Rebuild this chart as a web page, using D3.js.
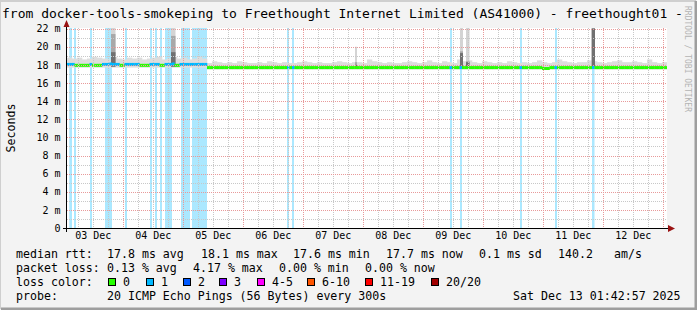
<!DOCTYPE html>
<html>
<head>
<meta charset="utf-8">
<script src="https://cdn.jsdelivr.net/npm/d3@7"></script>
<style>
  body { margin: 0; background: #f3f3f3; }
  text { font-family: "DejaVu Sans Mono", monospace; fill: #000; }
</style>
</head>
<body>
<div id="chart"></div>
<script>
// graph window: last 10 days, hourly bins counted from the start
var startTime = new Date(Date.UTC(2025, 11, 3, 1, 42, 57));
var endTime = new Date(Date.UTC(2025, 11, 13, 1, 42, 57));

// median rtt per hour (ms), 240 hours
var medianRtt = [
  18.05,18.05,18.05,17.95,17.95,17.95,17.95,17.95,17.95,18.05,17.95,17.95,17.95,17.95,18.05,18.05,18.05,18.1,18.05,18.05,18.05,17.95,17.95,18.05,
  18.05,18.05,18.05,18.05,18.05,17.95,17.95,17.95,17.95,18.05,18.05,18.05,18.05,17.95,17.95,18.05,18.05,18.05,18.1,17.95,17.95,18.05,18.05,18.05,
  18.05,18.05,18.05,18.05,18.05,18.05,18.05,18.05,17.7,17.7,17.7,17.7,17.7,17.7,17.7,17.7,17.7,17.7,17.7,17.7,17.7,17.7,17.7,17.7,
  17.7,17.7,17.7,17.7,17.7,17.7,17.7,17.7,17.7,17.7,17.7,17.7,17.7,17.7,17.7,17.7,17.7,17.7,17.7,17.7,17.7,17.7,17.7,17.7,
  17.7,17.7,17.7,17.7,17.7,17.7,17.7,17.7,17.7,17.7,17.7,17.7,17.7,17.7,17.7,17.7,17.7,17.7,17.7,17.7,17.7,17.7,17.7,17.7,
  17.7,17.7,17.7,17.7,17.7,17.7,17.7,17.7,17.7,17.7,17.7,17.7,17.7,17.7,17.7,17.7,17.7,17.7,17.7,17.7,17.7,17.7,17.7,17.7,
  17.7,17.7,17.7,17.7,17.7,17.7,17.7,17.7,17.7,17.7,17.7,17.7,17.7,17.7,17.7,17.7,17.7,17.7,17.7,17.7,17.7,17.7,17.7,17.7,
  17.7,17.7,17.7,17.7,17.7,17.7,17.7,17.7,17.7,17.7,17.7,17.7,17.7,17.7,17.7,17.7,17.7,17.7,17.7,17.7,17.7,17.7,17.6,17.6,
  17.6,17.7,17.7,17.7,17.7,17.7,17.7,17.7,17.7,17.7,17.7,17.7,17.7,17.7,17.7,17.7,17.7,17.7,17.7,17.7,17.7,17.7,17.7,17.7,
  17.7,17.7,17.7,17.7,17.7,17.7,17.7,17.7,17.7,17.7,17.7,17.7,17.7,17.7,17.7,17.7,17.7,17.7,17.7,17.7,17.7,17.7,17.7,17.7
];

// average lost pings per hour in the first 56 hours (hourly average, rounded up to a loss level)
var earlyLossLevel = [
  1,1,1,0,0,0,0,0,0,1,0,0,0,0,1,1,1,1,1,1,1,0,0,1,
  1,1,1,1,1,0,0,0,0,1,1,1,1,0,0,1,1,1,1,0,0,1,1,1,
  1,1,1,1,1,1,1,1
];

// smoke (all pings) per 2-hour block: lowest and highest rtt (ms)
var smokeLo = [
  17.7,17.7,17.7,17.7,17.7,17.7,17.7,17.7,17.7,17.7,17.7,17.7,17.7,17.7,17.7,17.7,17.7,17.7,17.7,17.7,17.7,17.7,17.7,17.7,17.7,17.7,17.7,17.7,
  17.5,17.5,17.5,17.5,17.5,17.5,17.5,17.5,17.5,17.5,17.5,17.5,17.5,17.5,17.5,17.5,17.5,17.5,17.5,17.5,17.5,17.5,17.5,17.5,17.5,17.5,17.5,17.5,
  17.5,17.5,17.5,17.5,17.5,17.5,17.5,17.5,17.5,17.5,17.5,17.5,17.5,17.5,17.5,17.5,17.5,17.5,17.5,17.5,17.5,17.5,17.5,17.5,17.5,17.5,17.5,17.5,
  17.5,17.5,17.5,17.5,17.5,17.5,17.5,17.5,17.5,17.5,17.5,17.5,17.5,17.5,17.5,17.5,17.5,17.5,17.5,17.5,17.5,17.5,17.5,17.5,17.5,17.5,17.5,17.5,
  17.5,17.5,17.5,17.5,17.5,17.5,17.5,17.5
];
var smokeHi = [
  18.8,18.7,18.8,18.6,18.7,18.9,18.8,18.7,18.6,18.9,18.7,18.6,18.8,18.7,18.8,18.6,18.7,18.8,18.9,18.6,18.7,18.9,18.7,18.8,18.6,18.7,18.9,18.7,
  18.2,18.4,18.3,18.2,18.3,18.2,18.4,18.3,18.2,18.2,18.3,18.2,18.4,18.3,18.2,18.3,18.2,18.2,18.3,18.4,18.3,18.2,18.3,18.2,18.2,18.3,18.4,18.3,
  18.2,18.3,18.3,18.2,18.6,18.4,18.3,18.2,18.3,18.2,18.2,18.3,18.4,18.3,18.2,18.3,18.5,18.3,18.2,18.4,18.3,18.2,18.6,18.4,18.5,18.3,18.2,18.4,
  18.3,18.2,18.3,18.2,18.4,18.3,18.2,18.3,18.2,18.3,18.5,18.3,18.2,18.3,18.6,18.4,18.3,18.2,18.3,18.3,18.5,18.4,18.3,18.2,18.3,18.4,18.5,18.3,
  18.3,18.4,18.3,18.2,18.6,18.3,18.2,18.3
];

// bursts of slow pings: hour, width (h), light/mid/dark smoke tops (ms)
var spikeHour  = [17.6, 41.6, 115.2, 157.2, 159.6, 209.9];
var spikeWidth = [1.8, 1.8, 0.8, 1.2, 1.4, 1.3];
var spikeLight = [22.5, 22.1, 20.0, 22.3, 22.3, 22.5];
var spikeMid   = [21.4, 21.2, 18.3, 19.5, 18.4, 22.5];
var spikeDark  = [19.4, 19.4, 18.0, 19.3, 18.3, 22.0];

// hours with lost pings: start hour, end hour, pings lost of 20
var lossStart = [0.9, 2.8, 9.2, 15.2, 23.2, 33.2, 35.2, 37.2, 39.2, 45.6, 50.0, 88.0, 90.0, 153.2, 157.2, 181.2, 195.2, 210.0];
var lossEnd   = [2.0, 3.6, 10.0, 18.0, 24.0, 34.0, 36.0, 38.0, 42.0, 49.2, 56.0, 88.8, 90.8, 154.0, 158.0, 182.0, 196.0, 211.0];
var lossCount = [1, 1, 1, 1, 1, 1, 1, 1, 1, 1, 1, 1, 1, 1, 1, 1, 1, 1];

// loss colour legend
var lossLabels = ['0', '1', '2', '3', '4-5', '6-10', '11-19', '20/20'];
var lossColors = ['#26ff00', '#00b8ff', '#0059ff', '#7e00ff', '#ff00ff', '#ff5500', '#ff0000', '#a10000'];
var lossLegendX = [108, 146, 183, 219, 257, 307, 365, 431];

var yTicks = [0, 2, 4, 6, 8, 10, 12, 14, 16, 18, 20, 22];

var W = 697, H = 310;
var plot = { left: 67, top: 28, width: 600, height: 200 };

var svg = d3.select('#chart')
  .append('svg')
    .attr('width', W)
    .attr('height', H)
    .style('display', 'block');

// canvas and frame
svg.append('rect').attr('width', W).attr('height', H).attr('fill', '#f3f3f3');
svg.append('path').attr('d', 'M0,' + (H - 1) + 'V1H' + (W - 1)).attr('fill', 'none').attr('stroke', '#cfcfcf').attr('stroke-width', 2);
svg.append('path').attr('d', 'M1,' + (H - 1) + 'H' + (W - 1) + 'V1').attr('fill', 'none').attr('stroke', '#9e9e9e').attr('stroke-width', 3);

var x = d3.scaleTime().domain([startTime, endTime]).range([plot.left, plot.left + plot.width]);
var y = d3.scaleLinear().domain([0, 22.07]).range([plot.top + plot.height, plot.top]);

var hourToDate = function(h){ return new Date(startTime.getTime() + h * 3600000); };
var hx = function(h){ return x(hourToDate(h)); };

var g = svg.append('g');
g.append('rect')
  .attr('x', plot.left).attr('y', plot.top)
  .attr('width', plot.width).attr('height', plot.height)
  .attr('fill', '#ffffff');

var clip = svg.append('clipPath').attr('id', 'plotclip');
clip.append('rect').attr('x', plot.left).attr('y', plot.top).attr('width', plot.width).attr('height', plot.height);
var marks = g.append('g').attr('clip-path', 'url(#plotclip)');

// loss background bars
var lossIdx = d3.range(lossStart.length);
marks.selectAll('.lossbg').data(lossIdx).enter().append('rect')
  .attr('class', 'lossbg')
  .attr('x', function(i){ return hx(lossStart[i]); })
  .attr('width', function(i){ return hx(lossEnd[i]) - hx(lossStart[i]); })
  .attr('y', plot.top)
  .attr('height', plot.height)
  .attr('fill', function(i){ return lossColors[Math.min(lossCount[i], 7)]; })
  .attr('fill-opacity', 0.33);

// smoke
var blocks = d3.range(smokeHi.length);
marks.selectAll('.smoke').data(blocks).enter().append('rect')
  .attr('class', 'smoke')
  .attr('x', function(i){ return hx(i * 2); })
  .attr('width', function(i){ return hx(i * 2 + 2) - hx(i * 2) + 0.3; })
  .attr('y', function(i){ return y(smokeHi[i]); })
  .attr('height', function(i){ return y(smokeLo[i]) - y(smokeHi[i]); })
  .attr('fill', '#dddddd');

var spikes = d3.range(spikeHour.length);
var spikeLayers = [[spikeLight, '#d4d4d4'], [spikeMid, '#a8a8a8'], [spikeDark, '#707070']];
spikeLayers.forEach(function(layer){
  marks.selectAll(null).data(spikes).enter().append('rect')
    .attr('x', function(i){ return hx(spikeHour[i]); })
    .attr('width', function(i){ return hx(spikeHour[i] + spikeWidth[i]) - hx(spikeHour[i]); })
    .attr('y', function(i){ return y(layer[0][i]); })
    .attr('height', function(i){ return Math.max(0, y(17.8) - y(layer[0][i])); })
    .attr('fill', layer[1]);
});

// grid
var gridG = g.append('g');
var dayTicks = x.ticks(d3.utcDay.every(1));
var sixTicks = x.ticks(d3.utcHour.every(6)).filter(function(d){ return d.getUTCHours() !== 0; });
gridG.selectAll('.vminor').data(sixTicks).enter().append('line')
  .attr('x1', function(d){ return Math.round(x(d)) + 0.5; })
  .attr('x2', function(d){ return Math.round(x(d)) + 0.5; })
  .attr('y1', plot.top).attr('y2', plot.top + plot.height)
  .attr('stroke', '#c8c8c8').attr('stroke-dasharray', '1,1');
var minorY = d3.range(1, 23, 2);
gridG.selectAll('.hminor').data(minorY).enter().append('line')
  .attr('y1', function(d){ return Math.round(y(d)) + 0.5; })
  .attr('y2', function(d){ return Math.round(y(d)) + 0.5; })
  .attr('x1', plot.left).attr('x2', plot.left + plot.width)
  .attr('stroke', '#c8c8c8').attr('stroke-dasharray', '1,1');
gridG.selectAll('.vmajor').data(dayTicks).enter().append('line')
  .attr('x1', function(d){ return Math.round(x(d)) + 0.5; })
  .attr('x2', function(d){ return Math.round(x(d)) + 0.5; })
  .attr('y1', plot.top).attr('y2', plot.top + plot.height)
  .attr('stroke', '#e89a9a').attr('stroke-dasharray', '1,1');
gridG.selectAll('.hmajor').data(yTicks.slice(1)).enter().append('line')
  .attr('y1', function(d){ return Math.round(y(d)) + 0.5; })
  .attr('y2', function(d){ return Math.round(y(d)) + 0.5; })
  .attr('x1', plot.left).attr('x2', plot.left + plot.width)
  .attr('stroke', '#e89a9a').attr('stroke-dasharray', '1,1');

// median line, coloured by loss of the hour
var lossAt = function(h){
  if (h < earlyLossLevel.length) return earlyLossLevel[h];
  for (var i = 0; i < lossStart.length; i++) {
    if (h + 0.5 >= lossStart[i] && h + 0.5 < lossEnd[i]) return lossCount[i];
  }
  return 0;
};
var hours = d3.range(medianRtt.length);
marks.selectAll('.median').data(hours).enter().append('rect')
  .attr('class', 'median')
  .attr('x', function(h){ return hx(h); })
  .attr('width', function(h){ return hx(h + 1) - hx(h) + 0.3; })
  .attr('y', function(h){ return y(medianRtt[h]) - 1.5; })
  .attr('height', 3)
  .attr('fill', function(h){ return lossColors[Math.min(lossAt(h), 7)]; });

// axes
var yAxis = d3.axisLeft(y).tickValues(yTicks).tickSize(0).tickPadding(6)
  .tickFormat(function(d){ return d === 0 ? '0' : d + ' m'; });
var yAxisG = svg.append('g').attr('transform', 'translate(' + (plot.left - 0.5) + ',0)').call(yAxis);
yAxisG.select('.domain').remove();
yAxisG.selectAll('text').style('font-size', '10px').attr('font-family', 'DejaVu Sans Mono');

var noonTicks = d3.utcHours(startTime, endTime, 1).filter(function(d){ return d.getUTCHours() === 12; });
var xAxis = d3.axisBottom(x).tickValues(noonTicks).tickSize(0).tickPadding(4)
  .tickFormat(d3.utcFormat('%d %b'));
var xAxisG = svg.append('g').attr('transform', 'translate(0,' + (plot.top + plot.height) + ')').call(xAxis);
xAxisG.select('.domain').remove();
xAxisG.selectAll('text').style('font-size', '10px').attr('font-family', 'DejaVu Sans Mono');

svg.append('line')
  .attr('x1', plot.left - 0.5).attr('x2', plot.left - 0.5)
  .attr('y1', plot.top + plot.height + 4).attr('y2', plot.top - 2)
  .attr('stroke', '#000');
svg.append('line')
  .attr('x1', plot.left - 4).attr('x2', plot.left + plot.width + 2)
  .attr('y1', plot.top + plot.height + 0.5).attr('y2', plot.top + plot.height + 0.5)
  .attr('stroke', '#000');
svg.append('path')
  .attr('d', 'M' + (plot.left - 3.5) + ',' + (plot.top - 1) + 'L' + (plot.left - 0.5) + ',' + (plot.top - 8) + 'L' + (plot.left + 2.5) + ',' + (plot.top - 1) + 'Z')
  .attr('fill', '#9a1212');
svg.append('path')
  .attr('d', 'M' + (plot.left + plot.width + 1) + ',' + (plot.top + plot.height - 3) + 'L' + (plot.left + plot.width + 8) + ',' + (plot.top + plot.height + 0.5) + 'L' + (plot.left + plot.width + 1) + ',' + (plot.top + plot.height + 4) + 'Z')
  .attr('fill', '#9a1212');

// titles
svg.append('text')
  .attr('x', 2).attr('y', 18)
  .style('font-size', '13px')
  .text('from docker-tools-smokeping to Freethought Internet Limited (AS41000) - freethought01 -');

svg.append('text')
  .attr('transform', 'translate(15,128) rotate(-90)')
  .attr('text-anchor', 'middle')
  .style('font-size', '11.6px')
  .text('Seconds');

svg.append('text')
  .attr('transform', 'translate(685,59) rotate(90)')
  .attr('text-anchor', 'middle')
  .style('font-size', '8px')
  .style('fill', '#b4b4b4')
  .text('RRDTOOL / TOBI OETIKER');

// legend
var legendRows = [
  [[16, 'median rtt:'], [107, '17.8 ms avg'], [201, '18.1 ms max'], [293, '17.6 ms min'], [386, '17.7 ms now'], [479, '0.1 ms sd'], [558, '140.2'], [614, 'am/s']],
  [[16, 'packet loss:'], [107, '0.13 % avg'], [193, '4.17 % max'], [279, '0.00 % min'], [365, '0.00 % now']],
  [[16, 'loss color:']],
  [[16, 'probe:'], [107, '20 ICMP Echo Pings (56 Bytes) every 300s'], [513, 'Sat Dec 13 01:42:57 2025']]
];
var rowY = [254, 268, 282, 296];
legendRows.forEach(function(row, r){
  svg.selectAll(null).data(row).enter().append('text')
    .attr('x', function(d){ return d[0]; })
    .attr('y', rowY[r])
    .attr('dy', '0.35em')
    .style('font-size', '11.6px')
    .text(function(d){ return d[1]; });
});
var lg = svg.selectAll('.lossleg').data(d3.range(lossLabels.length)).enter().append('g').attr('class', 'lossleg');
lg.append('rect')
  .attr('x', function(i){ return lossLegendX[i] + 0.5; })
  .attr('y', rowY[2] - 3.5)
  .attr('width', 7).attr('height', 7)
  .attr('fill', function(i){ return lossColors[i]; })
  .attr('stroke', '#000');
lg.append('text')
  .attr('x', function(i){ return lossLegendX[i] + 15; })
  .attr('y', rowY[2])
  .attr('dy', '0.35em')
  .style('font-size', '11.6px')
  .text(function(i){ return lossLabels[i]; });
</script>
</body>
</html>
